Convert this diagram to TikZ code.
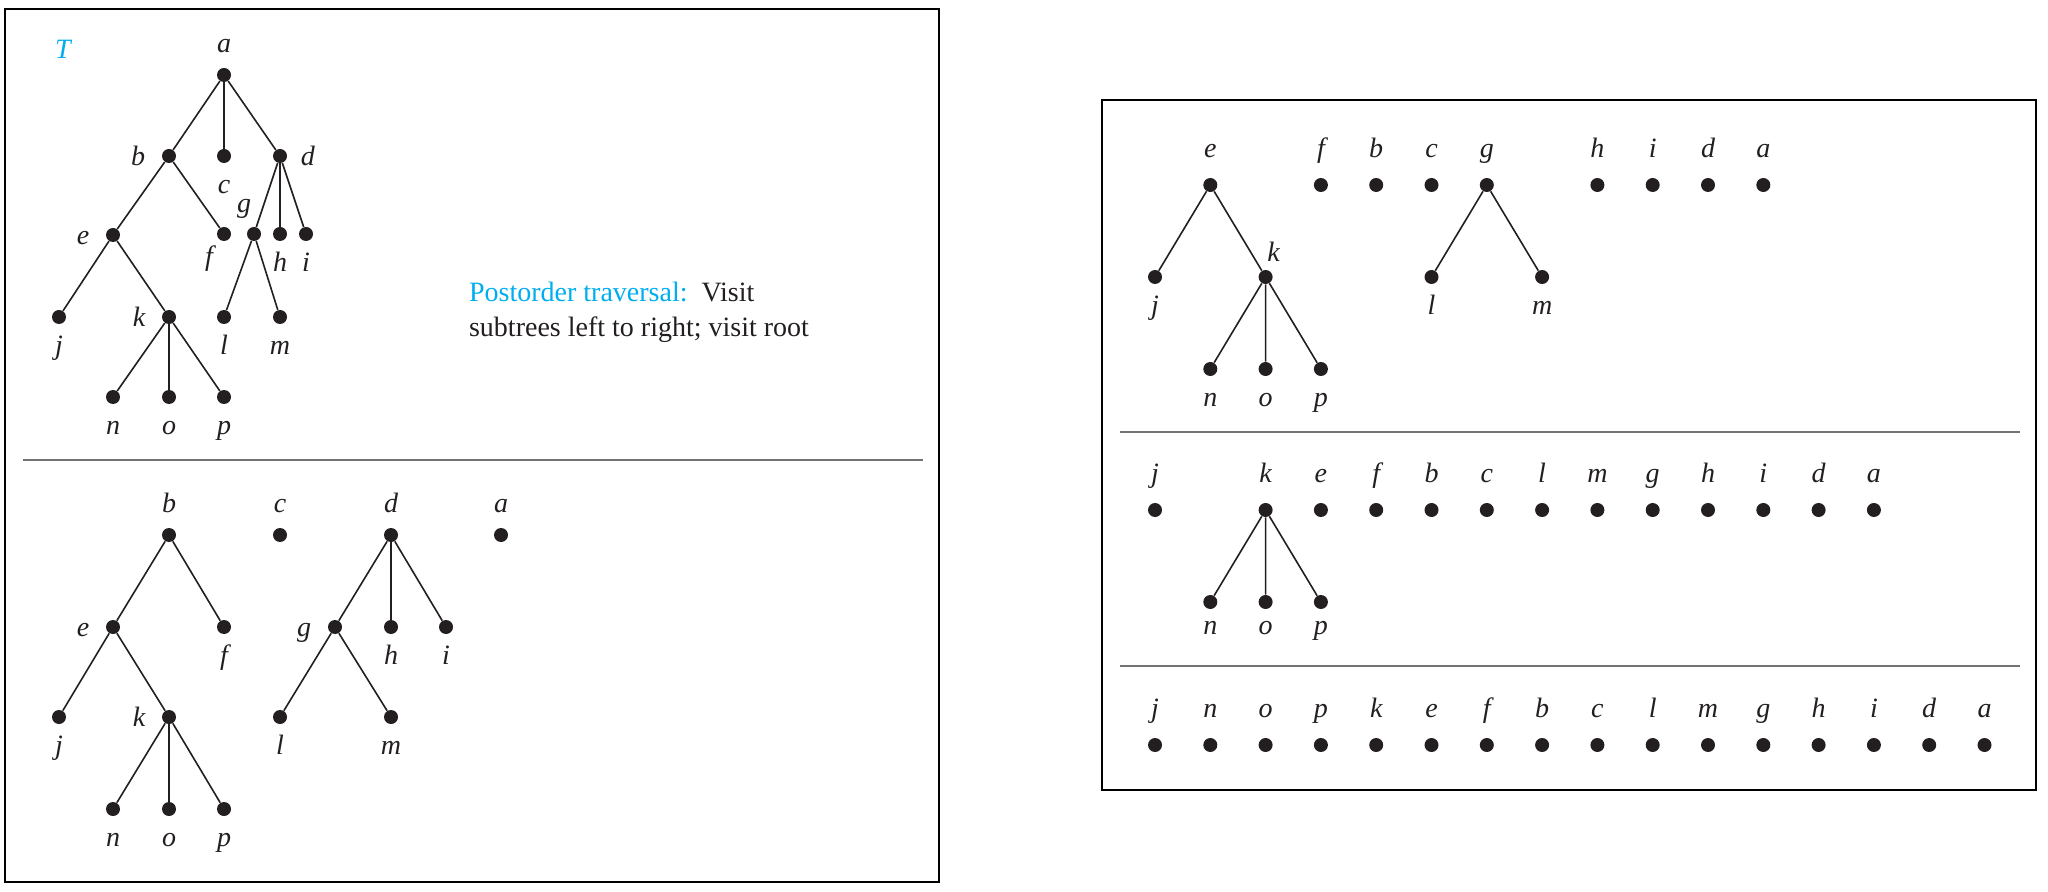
\documentclass[tikz,border=0pt]{standalone}
\usepackage{fontspec}
\setmainfont{Liberation Serif}
\usetikzlibrary{positioning}
\definecolor{tcyan}{RGB}{0,174,239}
\definecolor{ink}{RGB}{35,31,32}

\begin{document}
\begin{tikzpicture}[x=0.5pt,y=-0.5pt,on grid,node distance=27.65pt,
        dot/.style={circle,fill=ink,inner sep=0pt,minimum size=7pt},
        every edge/.style={draw=ink,line width=0.8pt},
        every label/.style={font=\fontsize{14}{16}\selectfont\itshape,text=ink,
            inner sep=0pt,text height=9.5pt,text depth=0pt},
        above lbl/.style={label={[label distance=7.25pt]above:#1}},
        below lbl/.style={label={[label distance=5.5pt]below:#1}},
        left lbl/.style={label={[label distance=8pt]left:#1}},
        right lbl/.style={label={[label distance=6.5pt]right:#1}},
        frame/.style={draw=black,line width=1.3pt},
        rule/.style={draw=gray!90!black,line width=1.3pt}]
    \useasboundingbox (0,0) rectangle (2048,892);

    % frames and rules
    \draw[frame] (5,9) rectangle (939,882);
    \draw[frame] (1102,100) rectangle (2036,790);
    \draw[rule] (23,460) -- (923,460);
    \draw[rule] (1120,432) -- (2020,432);
    \draw[rule] (1120,666) -- (2020,666);

    % the tree T
    \node[text=tcyan,font=\fontsize{14}{16}\selectfont\itshape,anchor=base] (T) at (63,59) {T};
    \node[dot,above lbl=a] (a1) at (224,75) {};
    \node[dot,left lbl=b] (b1) at (169,156) {};
    \node[dot,below lbl=c] (c1) at (224,156) {};
    \node[dot,right lbl=d] (d1) at (280,156) {};
    \node[dot,left lbl=e] (e1) at (113,235) {};
    \node[dot,label={[label distance=2.5pt,xshift=-7.5pt]below:f}] (f1) at (224,234) {};
    \node[dot,label={[label distance=7pt,xshift=-5pt]above:g}] (g1) at (254,234) {};
    \node[dot,below lbl=h] (h1) at (280,234) {};
    \node[dot,below lbl=i] (i1) at (306,234) {};
    \node[dot,below lbl=j] (j1) at (59,317) {};
    \node[dot,left lbl=k] (k1) at (169,317) {};
    \node[dot,below lbl=l] (l1) at (224,317) {};
    \node[dot,below lbl=m] (m1) at (280,317) {};
    \node[dot,below lbl=n] (n1) at (113,397) {};
    \node[dot,below lbl=o] (o1) at (169,397) {};
    \node[dot,below lbl=p] (p1) at (224,397) {};

    \path (a1) edge (b1) edge (c1) edge (d1)
    (b1) edge (e1) edge (f1)
    (d1) edge (g1) edge (h1) edge (i1)
    (e1) edge (j1) edge (k1)
    (g1) edge (l1) edge (m1)
    (k1) edge (n1) edge (o1) edge (p1);

    \node[anchor=base west,font=\fontsize{14}{17}\selectfont,text=ink] (line1) at (462,302)
        {\textcolor{tcyan}{Postorder traversal:}\ \ Visit};
    \node[anchor=base west,font=\fontsize{14}{17}\selectfont,text=ink] (line2) at ([yshift=-17.5pt]line1.base west)
        {subtrees left to right; visit root};

    % first step
    \node[dot,above lbl=b] (b2) at (169,535) {};
    \node[dot,above lbl=c] (c2) at (280,535) {};
    \node[dot,above lbl=d] (d2) at (391,535) {};
    \node[dot,above lbl=a] (a2) at (501,535) {};
    \node[dot,left lbl=e] (e2) at (113,627) {};
    \node[dot,below lbl=f] (f2) at (224,627) {};
    \node[dot,left lbl=g] (g2) at (335,627) {};
    \node[dot,below lbl=h] (h2) at (391,627) {};
    \node[dot,below lbl=i] (i2) at (446,627) {};
    \node[dot,below lbl=j] (j2) at (59,717) {};
    \node[dot,left lbl=k] (k2) at (169,717) {};
    \node[dot,below lbl=l] (l2) at (280,717) {};
    \node[dot,below lbl=m] (m2) at (391,717) {};
    \node[dot,below lbl=n] (n2) at (113,809) {};
    \node[dot,below lbl=o] (o2) at (169,809) {};
    \node[dot,below lbl=p] (p2) at (224,809) {};

    \path (b2) edge (e2) edge (f2)
    (d2) edge (g2) edge (h2) edge (i2)
    (e2) edge (j2) edge (k2)
    (g2) edge (l2) edge (m2)
    (k2) edge (n2) edge (o2) edge (p2);

    \begin{scope}[above lbl/.style={label={[label distance=10pt]above:#1}}]
    % second step
    \node[dot,above lbl=e] (e3) at (1210.3,185) {};
    \node[dot,above lbl=f,right=55.3pt of e3] (f3) {};
    \node[dot,above lbl=b,right=of f3] (b3) {};
    \node[dot,above lbl=c,right=of b3] (c3) {};
    \node[dot,above lbl=g,right=of c3] (g3) {};
    \node[dot,above lbl=h,right=55.3pt of g3] (h3) {};
    \node[dot,above lbl=i,right=of h3] (i3) {};
    \node[dot,above lbl=d,right=of i3] (d3) {};
    \node[dot,above lbl=a,right=of d3] (a3) {};
    \node[dot,below lbl=j] (j3) at (1155,277) {};
    \node[dot,label={[label distance=4pt,xshift=4pt]above:k}] (k3) at (1265.6,277) {};
    \node[dot,below lbl=l] (l3) at (1431.5,277) {};
    \node[dot,below lbl=m] (m3) at (1542.1,277) {};
    \node[dot,below lbl=n] (n3) at (1210.3,369) {};
    \node[dot,below lbl=o,right=of n3] (o3) {};
    \node[dot,below lbl=p,right=of o3] (p3) {};

    \path (e3) edge (j3) edge (k3)
    (g3) edge (l3) edge (m3)
    (k3) edge (n3) edge (o3) edge (p3);

    % third step
    \node[dot,above lbl=j] (j4) at (1155,510) {};
    \node[dot,above lbl=k,right=55.3pt of j4] (k4) {};
    \node[dot,above lbl=e,right=of k4] (e4) {};
    \node[dot,above lbl=f,right=of e4] (f4) {};
    \node[dot,above lbl=b,right=of f4] (b4) {};
    \node[dot,above lbl=c,right=of b4] (c4) {};
    \node[dot,above lbl=l,right=of c4] (l4) {};
    \node[dot,above lbl=m,right=of l4] (m4) {};
    \node[dot,above lbl=g,right=of m4] (g4) {};
    \node[dot,above lbl=h,right=of g4] (h4) {};
    \node[dot,above lbl=i,right=of h4] (i4) {};
    \node[dot,above lbl=d,right=of i4] (d4) {};
    \node[dot,above lbl=a,right=of d4] (a4) {};
    \node[dot,label={[label distance=3pt]below:n}] (n4) at (1210.3,602) {};
    \node[dot,label={[label distance=3pt]below:o},right=of n4] (o4) {};
    \node[dot,label={[label distance=3pt]below:p},right=of o4] (p4) {};

    \path (k4) edge (n4) edge (o4) edge (p4);

    % last step
    \node[dot,above lbl=j] (j5) at (1155,745) {};
    \node[dot,above lbl=n,right=of j5] (n5) {};
    \node[dot,above lbl=o,right=of n5] (o5) {};
    \node[dot,above lbl=p,right=of o5] (p5) {};
    \node[dot,above lbl=k,right=of p5] (k5) {};
    \node[dot,above lbl=e,right=of k5] (e5) {};
    \node[dot,above lbl=f,right=of e5] (f5) {};
    \node[dot,above lbl=b,right=of f5] (b5) {};
    \node[dot,above lbl=c,right=of b5] (c5) {};
    \node[dot,above lbl=l,right=of c5] (l5) {};
    \node[dot,above lbl=m,right=of l5] (m5) {};
    \node[dot,above lbl=g,right=of m5] (g5) {};
    \node[dot,above lbl=h,right=of g5] (h5) {};
    \node[dot,above lbl=i,right=of h5] (i5) {};
    \node[dot,above lbl=d,right=of i5] (d5) {};
    \node[dot,above lbl=a,right=of d5] (a5) {};
    \end{scope}
\end{tikzpicture}
\end{document}
